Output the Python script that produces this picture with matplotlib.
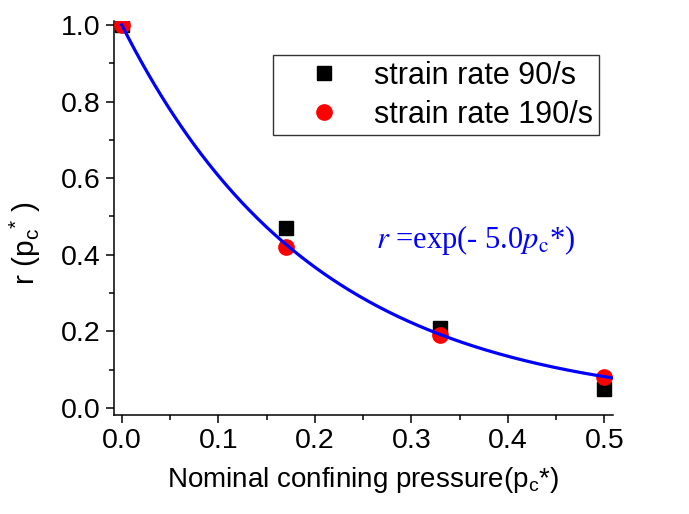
import numpy as np
import matplotlib
matplotlib.use('Agg')
import matplotlib.pyplot as plt
from matplotlib.ticker import MultipleLocator

plt.rcParams['font.family'] = ['Liberation Sans', 'DejaVu Sans']
plt.rcParams['mathtext.fontset'] = 'custom'
plt.rcParams['mathtext.rm'] = 'Liberation Sans'
plt.rcParams['mathtext.it'] = 'Liberation Sans:italic'

# measured points (nominal confining pressure vs r)
pc_90 = [0.0, 0.17, 0.33, 0.5]
r_90 = [1.0, 0.47, 0.21, 0.05]
pc_190 = [0.0, 0.17, 0.33, 0.5]
r_190 = [1.0, 0.42, 0.19, 0.08]
fit_k = 5.0

fig = plt.figure(figsize=(6.89, 5.14), dpi=100)
ax = fig.add_axes([0.1655, 0.1926, 0.7242, 0.7665])

p = np.linspace(0, 0.51, 300)
ax.plot(pc_90, r_90, 's', color='black', markersize=10, label='strain rate 90/s', zorder=3)
ax.plot(pc_190, r_190, 'o', color='red', markersize=11, label='strain rate 190/s', zorder=4)
ax.plot(p, np.exp(-fit_k * p), '-', color='blue', lw=2.3, zorder=5)

ax.set_xlim(-0.008, 0.509)
ax.set_ylim(-0.018, 1.01)
ax.xaxis.set_major_locator(MultipleLocator(0.1))
ax.xaxis.set_minor_locator(MultipleLocator(0.05))
ax.yaxis.set_major_locator(MultipleLocator(0.2))
ax.yaxis.set_minor_locator(MultipleLocator(0.1))
ax.spines['top'].set_visible(False)
ax.spines['right'].set_visible(False)
for s in ['left', 'bottom']:
    ax.spines[s].set_linewidth(1.1)
ax.tick_params(which='major', direction='out', length=6, width=1.1, labelsize=20.5)
ax.tick_params(which='minor', direction='out', length=3.5, width=1.1)

ax.set_xlabel(r'Nominal confining pressure(p$_{\mathrm{c}}$*)', fontsize=20, labelpad=8)
ax.set_ylabel(r'r (p$_{\mathrm{c}}$$^{*}$ )', fontsize=21.5)
ax.yaxis.set_label_coords(-0.142, 0.437)

ax.text(0.367, 0.439, r'$r$ =exp(- 5.0$p_{\mathrm{c}}$*)', color='blue', fontsize=22,
        family='Liberation Serif', math_fontfamily='stix', ha='center', va='center')

leg = ax.legend(loc='upper right', bbox_to_anchor=(599 / 689, 1 - 55 / 514),
                bbox_transform=fig.transFigure, borderaxespad=0, fontsize=22,
                frameon=True, fancybox=False, edgecolor='black', handletextpad=0.15,
                borderpad=0.18, labelspacing=0.3, handlelength=3.0, numpoints=1)
leg.get_frame().set_linewidth(1.0)

fig.savefig('out.png', dpi=100)
